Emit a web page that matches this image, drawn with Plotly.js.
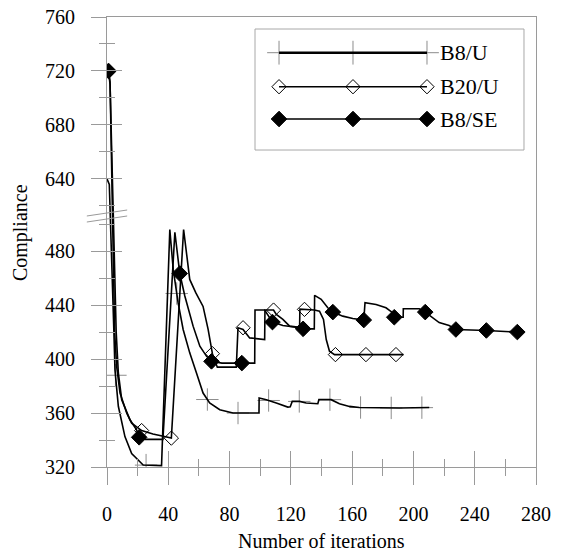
<!DOCTYPE html>
<html><head><meta charset="utf-8">
<script src="https://cdn.plot.ly/plotly-3.0.1.min.js"></script>
<style>html,body{margin:0;padding:0;background:#fff}#chart{width:563px;height:555px}</style>
</head><body><div id="chart"></div>
<script>
// ---- data (iterations, compliance) ----
const b8uX = [0, 1.5, 4.5, 5.2, 7.4, 11.7, 16.1, 23.6, 35.6, 41, 43.2, 46.4, 49.7, 54, 58.4, 60.6, 62.7, 67, 73.6, 82.2, 99.2, 99.3, 104, 110.5, 118, 119.6, 120.9, 125.7, 130, 137.6, 138.3, 146.3, 148.5, 151.7, 158.2, 164.7, 190.8, 210.3];
const b8uY = [640, 636, 420, 392, 365, 342.5, 330, 321.5, 321, 496, 466.6, 441.8, 421.9, 404.6, 389.7, 382.3, 374.8, 367.4, 362.4, 360, 360, 371.1, 369.9, 367.4, 364.4, 364.7, 368.6, 368.6, 367.4, 366.9, 369.9, 369.9, 368.6, 366.9, 364.9, 364.1, 363.7, 364.1];
const b8uMarkX = [5.5, 25.5, 45.5, 65.5, 85.5, 105.5, 125.5, 145.5, 165.5, 185.5, 205.5];
const b8uMarkY = [388, 321.4, 448.6, 370, 360, 369.3, 368.6, 369.9, 364.1, 363.8, 364];

const b20uX = [1, 2, 5, 6.3, 8.5, 12.9, 16.1, 22.6, 30, 42, 50, 54, 58, 62.7, 66, 68.8, 72, 84.4, 85.5, 88.8, 93.1, 102.9, 103.1, 108.7, 110.5, 114.8, 119.2, 125.7, 125.9, 135.4, 138.7, 141.3, 143.1, 145.2, 148.5, 193.5];
const b20uY = [720, 712, 420, 394.6, 374.8, 359.9, 352.5, 347, 344.5, 341.4, 496, 459, 449, 439, 422, 404, 394, 394, 423.2, 421.9, 415.7, 414.5, 436.3, 436.3, 433.1, 429.4, 424.4, 423.5, 437, 436.3, 435.5, 429.4, 414.5, 405.8, 403.3, 403.3];
const b20uMarkX = [1, 22.6, 42, 68.8, 88.8, 108.7, 128.9, 149.1, 169, 188.6];
const b20uMarkY = [720, 347, 341.4, 404, 423.2, 436.3, 436.8, 403.3, 403.3, 403.3];

const b8seX = [1, 2, 6, 7.4, 9.6, 15, 19.3, 21, 25, 36.5, 44.3, 47.5, 50.8, 56.2, 60.6, 65, 68.2, 75, 88, 96.4, 96.6, 102.9, 108, 114.8, 125.7, 128, 135.3, 135.5, 139.8, 144.1, 147.4, 153.9, 160.4, 167.6, 168.4, 175.6, 182.1, 186.4, 187.5, 193.3, 193.4, 203.8, 207.7, 212.5, 216.8, 223.3, 227.7, 247.6, 267.8];
const b8seY = [720, 710, 420, 389.7, 369.9, 355, 347.5, 342, 340.5, 340.5, 494, 463.4, 446.7, 424.4, 409.5, 402, 398.3, 397, 397, 397, 436.3, 436.3, 427.4, 424.9, 423.2, 422.4, 422.4, 447.2, 444.3, 438, 434.8, 431.8, 430, 428.9, 441.8, 440.5, 438, 434.4, 431, 431, 437.3, 437.3, 434.8, 430.6, 427, 424.9, 421.9, 421.2, 420];
const b8seMarkX = [1, 21, 47.5, 68.2, 88, 108, 128, 147.4, 167.6, 187.5, 207.7, 227.7, 247.6, 267.8];
const b8seMarkY = [720, 342, 463.4, 398.3, 397, 427.4, 422.4, 434.8, 428.9, 431, 434.8, 421.9, 421.2, 420];

const seriesNames = ["B8/U", "B20/U", "B8/SE"];
const yTickLabels = [320, 360, 400, 440, 480, 640, 680, 720, 760];
const yMinorLabels = [340, 380, 420, 460, 500, 620, 660, 700, 740];
const xTitle = "Number of iterations";
const yTitle = "Compliance";

// ---- broken y axis: values above the break are shifted down ----
const BREAK_AT = 560, BREAK_SHIFT = 106.5;
const fy = v => v > BREAK_AT ? v - BREAK_SHIFT : v;
const Y = arr => arr.map(fy);

const FONT = "Liberation Serif, Times New Roman, serif";
const AX = "#9a9a9a";
const yRange = [320, fy(760)];

const traces = [
  {x: b8uMarkX, y: Y(b8uMarkY), mode: "markers", type: "scatter", showlegend: false, hoverinfo: "skip",
   marker: {symbol: "cross-thin", size: 16, line: {color: "#8c8c8c", width: 1}}},
  {x: b8uX, y: Y(b8uY), mode: "lines", type: "scatter", name: seriesNames[0], showlegend: false,
   line: {color: "#000", width: 1.6}},
  {x: b20uX, y: Y(b20uY), mode: "lines", type: "scatter", name: seriesNames[1], showlegend: false,
   line: {color: "#000", width: 1.6}},
  {x: b8seX, y: Y(b8seY), mode: "lines", type: "scatter", name: seriesNames[2], showlegend: false,
   line: {color: "#000", width: 1.6}},
  {x: b20uMarkX, y: Y(b20uMarkY), mode: "markers", type: "scatter", showlegend: false, hoverinfo: "skip",
   marker: {symbol: "diamond-open", size: 11, color: "#000", line: {color: "#000", width: 1}}},
  {x: b8seMarkX, y: Y(b8seMarkY), mode: "markers", type: "scatter", showlegend: false, hoverinfo: "skip",
   marker: {symbol: "diamond", size: 12, color: "#000", line: {color: "#000", width: 1}}},
  // dummy trace so the overlay axes (inside ticks) are drawn
  {x: [null], y: [null], xaxis: "x2", yaxis: "y2", mode: "markers", showlegend: false, hoverinfo: "skip"}
];

// ---- custom legend drawn on a hidden overlay axis in plot-area fractions ----
const legX = [0.401, 0.5734, 0.7459];
const legRows = [0.9207, 0.8451, 0.7733];
const legMarkers = [
  {symbol: "cross-thin", size: 17, line: {color: "#8c8c8c", width: 1}},
  {symbol: "diamond-open", size: 11, color: "#000", line: {color: "#000", width: 1}},
  {symbol: "diamond", size: 12, color: "#000", line: {color: "#000", width: 1}}
];
const legWidths = [2.6, 1.6, 1.6];
for (let i = 0; i < 3; i++) {
  if (i === 0) {
    traces.push({x: legX, y: legX.map(() => legRows[i]), xaxis: "x3", yaxis: "y3", mode: "markers",
      marker: legMarkers[i], showlegend: false, hoverinfo: "skip", cliponaxis: false});
    traces.push({x: legX, y: legX.map(() => legRows[i]), xaxis: "x3", yaxis: "y3", mode: "lines",
      line: {color: "#000", width: legWidths[i]}, showlegend: false, hoverinfo: "skip", cliponaxis: false});
  } else {
    traces.push({x: legX, y: legX.map(() => legRows[i]), xaxis: "x3", yaxis: "y3", mode: "lines+markers",
      line: {color: "#000", width: legWidths[i]}, marker: legMarkers[i], showlegend: false, hoverinfo: "skip", cliponaxis: false});
  }
}

const tickF = {family: FONT, size: 20, color: "#000"};
const layout = {
  width: 563, height: 555,
  margin: {l: 107, r: 27, t: 17, b: 88},
  paper_bgcolor: "#fff", plot_bgcolor: "#fff",
  showlegend: false,
  font: {family: FONT, color: "#000"},
  xaxis: {range: [0, 280], tickmode: "linear", tick0: 0, dtick: 40,
    ticks: "outside", ticklen: 17, tickwidth: 1, tickcolor: AX,
    minor: {dtick: 20, tick0: 0, ticks: "outside", ticklen: 8, tickwidth: 1, tickcolor: AX},
    showline: true, linecolor: AX, linewidth: 1, mirror: true,
    showgrid: false, zeroline: false, tickfont: tickF, ticklabelstandoff: 12},
  xaxis2: {overlaying: "x", anchor: "y2", range: [0, 280], tickmode: "linear", tick0: 0, dtick: 40,
    ticks: "inside", ticklen: 16, tickwidth: 1, tickcolor: AX,
    minor: {dtick: 20, tick0: 0, ticks: "inside", ticklen: 8, tickwidth: 1, tickcolor: AX},
    showline: false, showgrid: false, zeroline: false, showticklabels: false},
  yaxis: {range: yRange, tickmode: "array", tickvals: Y(yTickLabels), ticktext: yTickLabels.map(String),
    ticks: "outside", ticklen: 15, tickwidth: 1, tickcolor: AX,
    minor: {tickmode: "array", tickvals: Y(yMinorLabels), ticks: "outside", ticklen: 7, tickwidth: 1, tickcolor: AX},
    showline: true, linecolor: AX, linewidth: 1, mirror: true,
    showgrid: false, zeroline: false, tickfont: tickF, ticklabelstandoff: 12},
  yaxis2: {overlaying: "y", anchor: "x2", range: yRange, tickmode: "array", tickvals: Y(yTickLabels),
    ticks: "inside", ticklen: 15, tickwidth: 1, tickcolor: AX,
    minor: {tickmode: "array", tickvals: Y(yMinorLabels), ticks: "inside", ticklen: 8, tickwidth: 1, tickcolor: AX},
    showline: false, showgrid: false, zeroline: false, showticklabels: false},
  xaxis3: {overlaying: "x", anchor: "y3", range: [0, 1], visible: false},
  yaxis3: {overlaying: "y", anchor: "x3", range: [0, 1], visible: false},
  shapes: [
    // legend box
    {type: "rect", xref: "paper", yref: "paper", x0: 0.345, x1: 0.972, y0: 0.7044, y1: 0.9733,
     line: {color: "#a8a8a8", width: 1}, fillcolor: "rgba(0,0,0,0)", layer: "below"},
    // axis break marks
    {type: "line", xref: "paper", yref: "paper", x0: -0.047, x1: 0.047, y0: 0.5578, y1: 0.5711,
     line: {color: AX, width: 1}},
    {type: "line", xref: "paper", yref: "paper", x0: -0.047, x1: 0.047, y0: 0.5444, y1: 0.5578,
     line: {color: AX, width: 1}}
  ],
  annotations: [
    {text: xTitle, xref: "paper", yref: "paper", x: 0.5, y: -0.1644, xanchor: "center", yanchor: "middle",
     showarrow: false, font: {family: FONT, size: 20, color: "#000"}},
    {text: yTitle, xref: "paper", yref: "paper", x: -0.2028, y: 0.522, xanchor: "center", yanchor: "middle",
     textangle: -90, showarrow: false, font: {family: FONT, size: 20, color: "#000"}}
  ].concat(seriesNames.map((n, i) => ({
     text: n, xref: "paper", yref: "paper", x: 0.7715, y: legRows[i], xanchor: "left", yanchor: "middle",
     showarrow: false, font: {family: FONT, size: 22, color: "#000"}})))
};

Plotly.newPlot("chart", traces, layout, {staticPlot: true, displayModeBar: false});
</script></body></html>
